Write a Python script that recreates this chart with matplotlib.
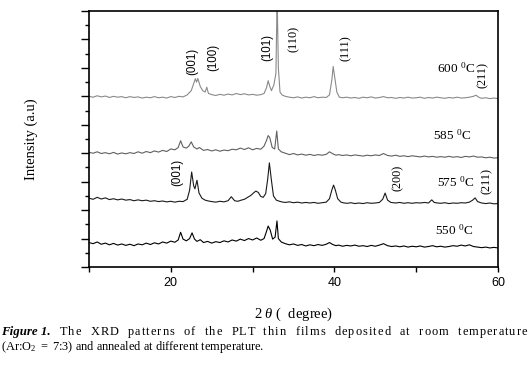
import matplotlib
matplotlib.use("Agg")
import matplotlib.pyplot as plt
from matplotlib.ticker import MultipleLocator

plt.rcParams['font.family'] = ['Liberation Serif', 'DejaVu Serif']
plt.rcParams['mathtext.fontset'] = 'custom'
plt.rcParams['mathtext.rm'] = 'Liberation Serif'
plt.rcParams['mathtext.it'] = 'Liberation Serif:italic'
plt.rcParams['mathtext.bf'] = 'Liberation Serif:bold'

# ---------------- data (y in stacked arbitrary units) ----------------
x600 = [10.0, 10.5, 11.0, 11.5, 12.0, 12.5, 13.0, 13.5, 14.0, 14.5, 15.0, 15.5, 16.0, 16.5, 17.0, 17.5,
        18.0, 18.5, 19.0, 19.5, 20.0, 20.5, 21.0, 21.5, 22.0, 22.5, 22.8, 23.0, 23.15, 23.3, 23.6, 23.9,
        24.2, 24.4, 24.6, 25.0, 25.5, 26.0, 26.5, 27.0, 27.5, 28.0, 28.5, 29.0, 29.5, 30.0, 30.5, 31.0,
        31.4, 31.7, 31.9, 32.1, 32.3, 32.6, 32.85, 33.0, 33.15, 33.35, 33.6, 34.0, 34.5, 35.0, 35.5, 36.0,
        36.5, 37.0, 37.5, 38.0, 38.5, 39.0, 39.4, 39.7, 39.85, 40.0, 40.3, 40.6, 41.0, 41.5, 42.0, 42.5,
        43.0, 43.5, 44.0, 44.5, 45.0, 45.5, 46.0, 46.5, 47.0, 47.5, 48.0, 48.5, 49.0, 49.5, 50.0, 50.5,
        51.0, 51.5, 52.0, 52.5, 53.0, 53.5, 54.0, 54.5, 55.0, 55.5, 56.0, 56.5, 57.0, 57.3, 57.7, 58.0,
        58.5, 59.0, 59.5, 60.0]
y600 = [6.00, 5.97, 6.02, 5.98, 6.01, 5.96, 6.00, 5.97, 5.99, 5.95, 5.99, 5.96, 5.98, 5.94, 5.97, 5.95,
        5.99, 5.95, 5.97, 5.94, 5.99, 5.96, 6.00, 5.98, 6.05, 6.20, 6.45, 6.62, 6.50, 6.63, 6.35, 6.20,
        6.15, 6.32, 6.10, 6.06, 6.03, 6.07, 6.04, 6.08, 6.05, 6.10, 6.06, 6.09, 6.05, 6.07, 6.04, 6.06,
        6.10, 6.30, 6.55, 6.35, 6.20, 6.40, 6.80, 9.50, 7.00, 6.15, 6.05, 6.00, 5.97, 5.95, 5.98, 5.94,
        5.97, 5.95, 5.99, 5.95, 5.97, 5.96, 6.05, 6.60, 7.05, 6.75, 6.15, 5.97, 5.95, 5.97, 5.94, 5.96,
        5.93, 5.97, 5.95, 5.98, 5.94, 5.96, 5.99, 5.95, 5.96, 5.93, 5.96, 5.94, 5.97, 5.94, 5.95, 5.97,
        5.93, 5.96, 5.94, 5.97, 5.95, 5.93, 5.96, 5.94, 5.97, 5.94, 5.95, 5.97, 6.00, 6.04, 5.96, 5.93,
        5.95, 5.92, 5.94, 5.92]

x585 = [10.0, 10.5, 11.0, 11.5, 12.0, 12.5, 13.0, 13.5, 14.0, 14.5, 15.0, 15.5, 16.0, 16.5, 17.0, 17.5,
        18.0, 18.5, 19.0, 19.5, 20.0, 20.5, 20.9, 21.2, 21.5, 21.9, 22.2, 22.5, 22.8, 23.2, 23.5, 24.0,
        24.5, 25.0, 25.5, 26.0, 26.5, 27.0, 27.5, 28.0, 28.5, 29.0, 29.5, 30.0, 30.5, 31.0, 31.4, 31.7,
        31.9, 32.1, 32.4, 32.7, 32.95, 33.15, 33.5, 34.0, 34.5, 35.0, 35.5, 36.0, 36.5, 37.0, 37.5, 38.0,
        38.5, 39.0, 39.4, 39.8, 40.2, 40.5, 41.0, 41.5, 42.0, 42.5, 43.0, 43.5, 44.0, 44.5, 45.0, 45.5,
        46.0, 46.5, 47.0, 47.5, 48.0, 48.5, 49.0, 49.5, 50.0, 50.5, 51.0, 51.5, 52.0, 52.5, 53.0, 53.5,
        54.0, 54.5, 55.0, 55.5, 56.0, 56.5, 57.0, 57.5, 58.0, 58.5, 59.0, 59.5, 60.0]
y585 = [4.03, 4.00, 4.05, 3.99, 4.02, 3.98, 4.03, 3.97, 4.01, 3.98, 4.02, 3.99, 4.05, 4.00, 4.06, 4.02,
        4.08, 4.04, 4.10, 4.06, 4.15, 4.12, 4.20, 4.44, 4.22, 4.18, 4.25, 4.40, 4.22, 4.15, 4.20, 4.10,
        4.13, 4.08, 4.12, 4.07, 4.11, 4.09, 4.14, 4.12, 4.18, 4.13, 4.19, 4.12, 4.17, 4.14, 4.25, 4.45,
        4.62, 4.55, 4.20, 4.15, 4.78, 4.15, 4.05, 4.00, 3.95, 3.99, 3.94, 3.97, 3.93, 3.96, 3.92, 3.95,
        3.93, 3.96, 4.05, 3.98, 3.93, 3.95, 3.92, 3.94, 3.91, 3.94, 3.92, 3.90, 3.93, 3.91, 3.94, 3.92,
        3.99, 3.92, 3.90, 3.93, 3.89, 3.91, 3.88, 3.91, 3.89, 3.87, 3.90, 3.87, 3.89, 3.86, 3.88, 3.86,
        3.89, 3.86, 3.88, 3.85, 3.89, 3.87, 3.90, 3.86, 3.87, 3.84, 3.86, 3.83, 3.84]

x575 = [10.0, 10.5, 11.0, 11.5, 12.0, 12.5, 13.0, 13.5, 14.0, 14.5, 15.0, 15.5, 16.0, 16.5, 17.0, 17.5,
        18.0, 18.5, 19.0, 19.5, 20.0, 20.5, 21.0, 21.5, 22.0, 22.3, 22.55, 22.8, 22.95, 23.2, 23.45, 23.8,
        24.2, 24.6, 25.0, 25.5, 26.0, 26.5, 27.0, 27.4, 27.8, 28.2, 28.6, 29.0, 29.4, 29.8, 30.1, 30.4,
        30.7, 31.0, 31.3, 31.6, 31.85, 32.05, 32.3, 32.55, 32.9, 33.3, 33.7, 34.0, 34.5, 35.0, 35.5, 36.0,
        36.5, 37.0, 37.5, 38.0, 38.5, 39.0, 39.4, 39.7, 39.9, 40.1, 40.4, 40.8, 41.2, 41.6, 42.0, 42.5,
        43.0, 43.5, 44.0, 44.5, 45.0, 45.5, 45.9, 46.2, 46.5, 46.9, 47.5, 48.0, 48.5, 49.0, 49.5, 50.0,
        50.5, 51.0, 51.5, 51.9, 52.2, 52.6, 53.0, 53.5, 54.0, 54.5, 55.0, 55.5, 56.0, 56.5, 56.9, 57.2,
        57.5, 58.0, 58.5, 59.0, 59.5, 60.0]
y575 = [2.42, 2.38, 2.45, 2.39, 2.43, 2.37, 2.40, 2.36, 2.39, 2.35, 2.37, 2.33, 2.36, 2.33, 2.35, 2.31,
        2.33, 2.30, 2.32, 2.29, 2.31, 2.28, 2.31, 2.30, 2.38, 2.70, 3.34, 2.85, 2.75, 3.05, 2.60, 2.42,
        2.35, 2.32, 2.30, 2.28, 2.31, 2.29, 2.33, 2.47, 2.33, 2.31, 2.35, 2.38, 2.45, 2.52, 2.60, 2.67,
        2.62, 2.48, 2.45, 2.58, 3.10, 3.66, 3.05, 2.50, 2.35, 2.31, 2.28, 2.27, 2.29, 2.26, 2.28, 2.25,
        2.27, 2.25, 2.27, 2.24, 2.26, 2.28, 2.40, 2.72, 2.88, 2.72, 2.40, 2.28, 2.25, 2.24, 2.26, 2.23,
        2.25, 2.23, 2.26, 2.24, 2.25, 2.27, 2.38, 2.60, 2.35, 2.27, 2.25, 2.27, 2.24, 2.26, 2.24, 2.26,
        2.25, 2.27, 2.25, 2.36, 2.27, 2.25, 2.24, 2.26, 2.23, 2.25, 2.24, 2.26, 2.25, 2.28, 2.35, 2.43,
        2.30, 2.25, 2.23, 2.25, 2.22, 2.23]

x550 = [10.0, 10.5, 11.0, 11.5, 12.0, 12.5, 13.0, 13.5, 14.0, 14.5, 15.0, 15.5, 16.0, 16.5, 17.0, 17.5,
        18.0, 18.5, 19.0, 19.5, 20.0, 20.5, 20.9, 21.2, 21.5, 21.9, 22.3, 22.6, 22.9, 23.2, 23.6, 24.0,
        24.5, 25.0, 25.5, 26.0, 26.5, 27.0, 27.5, 28.0, 28.5, 29.0, 29.5, 30.0, 30.5, 31.0, 31.4, 31.7,
        31.9, 32.15, 32.45, 32.75, 32.98, 33.15, 33.5, 34.0, 34.5, 35.0, 35.5, 36.0, 36.5, 37.0, 37.5, 38.0,
        38.5, 39.0, 39.4, 39.8, 40.2, 40.5, 41.0, 41.5, 42.0, 42.5, 43.0, 43.5, 44.0, 44.5, 45.0, 45.5,
        46.0, 46.5, 47.0, 47.5, 48.0, 48.5, 49.0, 49.5, 50.0, 50.5, 51.0, 51.5, 52.0, 52.5, 53.0, 53.5,
        54.0, 54.5, 55.0, 55.5, 56.0, 56.5, 57.0, 57.5, 58.0, 58.5, 59.0, 59.5, 60.0]
y550 = [0.86, 0.82, 0.88, 0.80, 0.84, 0.78, 0.83, 0.77, 0.81, 0.76, 0.80, 0.75, 0.81, 0.78, 0.84, 0.79,
        0.85, 0.81, 0.88, 0.84, 0.91, 0.87, 0.95, 1.22, 0.98, 0.92, 1.00, 1.20, 0.98, 0.90, 0.96, 0.86,
        0.90, 0.84, 0.89, 0.86, 0.92, 0.88, 0.95, 0.91, 0.98, 0.93, 1.00, 0.95, 1.02, 0.94, 1.00, 1.25,
        1.44, 1.30, 0.98, 1.05, 1.62, 1.00, 0.88, 0.82, 0.78, 0.81, 0.76, 0.79, 0.74, 0.78, 0.75, 0.79,
        0.76, 0.80, 0.86, 0.79, 0.75, 0.77, 0.73, 0.76, 0.74, 0.77, 0.73, 0.75, 0.72, 0.76, 0.73, 0.77,
        0.82, 0.75, 0.72, 0.74, 0.71, 0.74, 0.70, 0.73, 0.71, 0.74, 0.70, 0.72, 0.75, 0.71, 0.73, 0.70,
        0.72, 0.75, 0.73, 0.77, 0.74, 0.78, 0.72, 0.70, 0.68, 0.70, 0.67, 0.69, 0.67]

temp_labels = ["600 $^0$C", "585 $^0$C", "575 $^0$C", "550 $^0$C"]
temp_label_x = [52.5, 52.05, 52.5, 52.3]
temp_label_y = [7.0, 4.64, 2.99, 1.30]

peak_labels = ["(001)", "(100)", "(101)", "(110)", "(111)", "(211)", "(001)", "(200)", "(211)"]
peak_label_x = [22.6, 25.2, 31.8, 35.0, 41.4, 58.2, 20.75, 47.8, 58.65]
peak_label_y = [7.21, 7.35, 7.73, 8.02, 7.70, 6.75, 3.34, 3.13, 3.02]
peak_label_sans = [True, True, True, False, False, False, True, False, False]

xtick_vals = [10, 20, 30, 40, 50, 60]
xtick_text = ["", "20", "", "40", "", "60"]

caption_head = "Figure 1."
caption_line1 = " The XRD patterns of the PLT thin films deposited at room temperature"
caption_line2 = r"(Ar:O$_2$ $=$ 7:3) and annealed at different temperature."

# ---------------- figure ----------------
W, H = 531, 374
fig = plt.figure(figsize=(W / 100, H / 100), dpi=100)
ax = fig.add_axes([89 / W, 1 - 267 / H, (498 - 89) / W, (267 - 11) / H])

series = [(x600, y600, "#8a8a8a"), (x585, y585, "#606060"),
          (x575, y575, "#1a1a1a"), (x550, y550, "#000000")]
for xs, ys, c in series:
    ax.plot(xs, ys, color=c, lw=0.8)

ax.set_xlim(10, 60)
ax.set_ylim(0, 9)
ax.set_xticks(xtick_vals)
ax.set_xticklabels(xtick_text, family=['Liberation Sans', 'DejaVu Sans'], fontsize=9)
ax.yaxis.set_major_locator(MultipleLocator(1))
ax.yaxis.set_minor_locator(MultipleLocator(0.5))
ax.set_yticklabels([])
ax.tick_params(axis='x', direction='out', length=3.5, width=1.0, pad=4)
ax.tick_params(axis='y', which='major', direction='out', length=5.5, width=1.0)
ax.tick_params(axis='y', which='minor', direction='out', length=2.8, width=1.0)
for s in ax.spines.values():
    s.set_linewidth(1.2)

ax.set_xlabel(r"2 $\theta$ (  degree)", fontsize=10.5, labelpad=12)
ax.set_ylabel("Intensity (a.u)", fontsize=10.5, labelpad=28)

for t, xx, yy in zip(temp_labels, temp_label_x, temp_label_y):
    ax.text(xx, yy, t, fontsize=9.5, ha='left', va='center')

for t, xx, yy, sans in zip(peak_labels, peak_label_x, peak_label_y, peak_label_sans):
    fam = ['Liberation Sans', 'DejaVu Sans'] if sans else ['Liberation Serif', 'DejaVu Serif']
    ax.text(xx, yy, t, fontsize=8.3 if sans else 8.8, rotation=90, ha='center', va='center', family=fam)

# ---------------- caption (first line justified to the right edge) ----------------
fig.canvas.draw()
r = fig.canvas.get_renderer()
y1 = 1 - 335 / H
y2 = 1 - 350 / H
cap_fs = 8.9
t1 = fig.text(1 / W, y1, caption_head, fontsize=9.3, fontweight='bold', fontstyle='italic',
              va='baseline')
bb = t1.get_window_extent(r)
start = bb.x1 + 1


def prefix_width(s):
    tmp = fig.text(0, 0, s + "|", fontsize=cap_fs)
    w = tmp.get_window_extent(r).width
    tmp.remove()
    return w


bar_w = prefix_width("")
total_w = prefix_width(caption_line1) - bar_w
target_end = 527.0
units = [5.0 if c == " " else 1.0 for c in caption_line1]
total_units = sum(units[:-1])
per_unit = (target_end - start - total_w) / total_units
acc = 0.0
for i, ch in enumerate(caption_line1):
    if ch != " ":
        xoff = prefix_width(caption_line1[:i]) - bar_w if i > 0 else 0.0
        fig.text((start + xoff + acc * per_unit) / W, y1, ch, fontsize=cap_fs, va='baseline')
    acc += units[i]

fig.text(1 / W, y2, caption_line2, fontsize=cap_fs, va='baseline')

fig.savefig("out.png", dpi=100)
